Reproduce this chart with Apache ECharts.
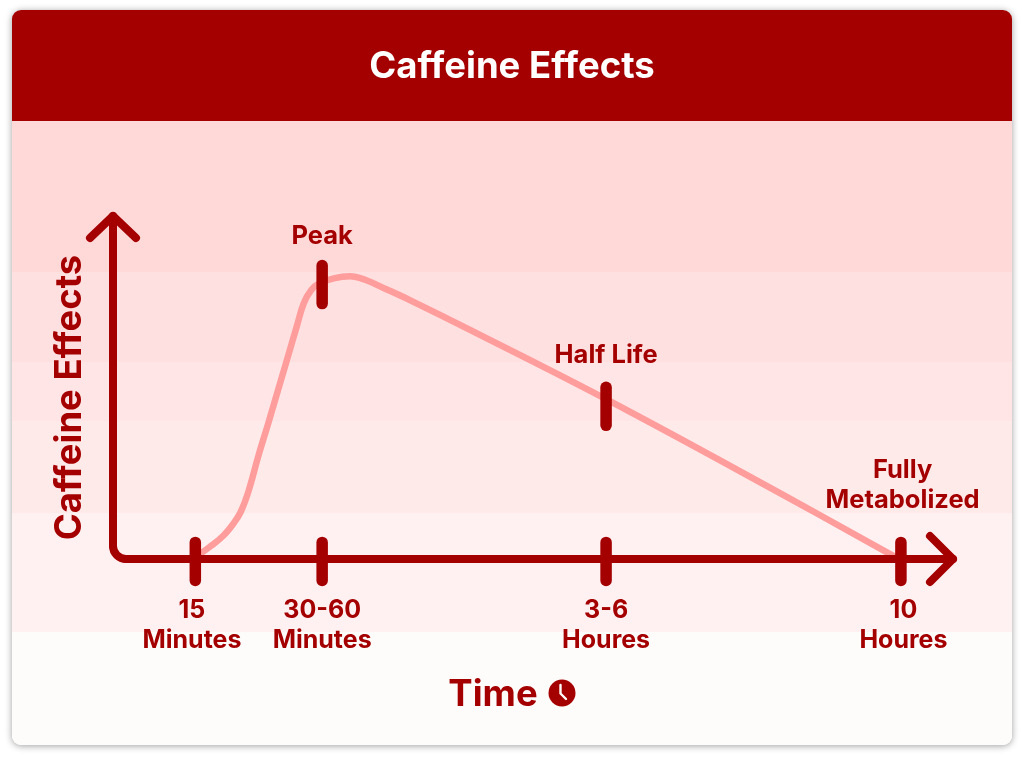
<!DOCTYPE html>
<html>
<head>
<meta charset="utf-8">
<title>Caffeine Effects</title>
<style>html,body{margin:0;padding:0;background:#fff}#chart{width:1024px;height:760px}</style>
<script src="https://cdn.jsdelivr.net/npm/echarts@6/dist/echarts.min.js"></script>
</head>
<body>
<div id="chart"></div>
<script>
// Effect curve: position along the time axis (0-100) and effect strength (0-100)
const curveTime = [10, 11.5, 13.1, 14.3, 15.2, 16.1, 17.3, 18.5, 20.7, 21.9, 22.7, 23.6, 24.6, 26.4, 28.2, 30, 32.4, 35.4, 42.5, 58.7, 79.4, 93.1];
const curveEffect = [0.9, 3.5, 6.7, 10.2, 13.7, 19.5, 30, 39.7, 58, 68, 74.5, 78.4, 80.4, 81.9, 82.4, 81.4, 78.8, 75.4, 66.8, 46.6, 19.2, 0.6];

// Time axis stops
const stopAt = [9.8, 24.9, 58.7, 93.8];
const stopLevel = -0.7;
const stopLabelAt = [9.4, 24.9, 58.7, 94.1];
const stopLabels = ['15\nMinutes', '30-60\nMinutes', '3-6\nHoures', '10\nHoures'];

// Marked moments on the curve
const eventNames = ['Peak', 'Half Life'];
const eventAt = [24.9, 58.7];
const eventLevel = [80, 44.5];

// Captions above the marks
const captionTexts = ['Peak', 'Half Life', 'Fully\nMetabolized'];
const captionAt = [24.9, 58.7, 94];
const captionLevel = [94.2, 59.5, 21.5];

const DARK = '#a50000';
const FONT = 'Inter, "Open Sans", sans-serif';

// Pale bands behind the plot, from strongest to faintest
const bandEdges = [121, 272, 362, 421, 513, 632, 745];
const bandColors = ['#ffd8d8', '#ffe0e0', '#ffe5e5', '#ffeaea', '#fff1f1', '#fefcfb'];

const cardLeft = 12, cardWidth = 1000;
const backdrop = [{
  type: 'rect', z: -5,
  shape: { x: cardLeft, y: 10, width: cardWidth, height: 735, r: 9 },
  style: { fill: '#fefcfb', shadowBlur: 7, shadowColor: 'rgba(0,0,0,0.38)', shadowOffsetY: 1 }
}, {
  type: 'rect', z: -4,
  shape: { x: cardLeft, y: 10, width: cardWidth, height: 111, r: [9, 9, 0, 0] },
  style: { fill: DARK }
}];
bandColors.forEach((fill, i) => {
  backdrop.push({
    type: 'rect', z: -4,
    shape: {
      x: cardLeft, y: bandEdges[i], width: cardWidth,
      height: bandEdges[i + 1] - bandEdges[i],
      r: i === bandColors.length - 1 ? [0, 0, 9, 9] : 0
    },
    style: { fill }
  });
});

// Clock glyph next to the time axis title
const clock = {
  type: 'group', x: 562, y: 693, z: 5,
  children: [
    { type: 'circle', shape: { cx: 0, cy: 0, r: 13.5 }, style: { fill: DARK } },
    { type: 'polyline', shape: { points: [[-1.5, -8], [-1.5, 0.5], [4, 6]] },
      style: { fill: 'none', stroke: '#fefcfb', lineWidth: 2.4, lineCap: 'round', lineJoin: 'round' } }
  ]
};

const chart = echarts.init(document.getElementById('chart'), null, { renderer: 'canvas' });

// Axis frame with a rounded corner and open arrow heads
function renderFrame(params, api) {
  const o = api.coord([0, 0]);
  const top = api.coord([0, 100]);
  const right = api.coord([100, 0]);
  const r = 13;
  const stroke = { fill: 'none', stroke: DARK, lineWidth: 8, lineCap: 'round', lineJoin: 'round' };
  return {
    type: 'group',
    children: [
      { type: 'line', shape: { x1: top[0], y1: top[1], x2: o[0], y2: o[1] - r }, style: stroke },
      { type: 'arc', shape: { cx: o[0] + r, cy: o[1] - r, r, startAngle: Math.PI / 2, endAngle: Math.PI, clockwise: true }, style: stroke },
      { type: 'line', shape: { x1: o[0] + r, y1: o[1], x2: right[0], y2: right[1] }, style: stroke },
      { type: 'polyline', shape: { points: [[top[0] - 23, top[1] + 22], top, [top[0] + 23, top[1] + 22]] }, style: stroke },
      { type: 'polyline', shape: { points: [[right[0] - 23, right[1] - 23], right, [right[0] - 23, right[1] + 23]] }, style: stroke }
    ]
  };
}

// Short upright bar marking a stop or a moment
function renderBar(params, api) {
  const c = api.coord([api.value(0), api.value(1)]);
  return {
    type: 'line',
    shape: { x1: c[0], y1: c[1] - 19, x2: c[0], y2: c[1] + 19 },
    style: { stroke: DARK, lineWidth: 11.5, lineCap: 'round', fill: 'none' }
  };
}

const captionStyle = { fontFamily: FONT, fontWeight: 700, fontSize: 25.5, color: DARK, lineHeight: 30 };

chart.setOption({
  animation: false,
  backgroundColor: '#ffffff',
  title: {
    text: 'Caffeine Effects', left: 'center', top: 39,
    textStyle: { color: '#ffffff', fontFamily: FONT, fontWeight: 700, fontSize: 36.5, lineHeight: 46 }
  },
  graphic: { elements: backdrop.concat([clock]) },
  grid: { left: 113, top: 216, width: 840, height: 343 },
  xAxis: {
    type: 'value', min: 0, max: 100,
    name: 'Time', nameLocation: 'middle', nameGap: 118,
    nameTextStyle: { fontFamily: FONT, fontWeight: 700, fontSize: 36.5, color: DARK, padding: [0, 80, 0, 0] },
    axisLine: { show: false }, axisTick: { show: false }, splitLine: { show: false },
    axisLabel: {
      customValues: stopLabelAt,
      margin: 36,
      fontFamily: FONT, fontWeight: 700, fontSize: 25, lineHeight: 30, color: DARK,
      formatter: v => stopLabels[stopLabelAt.indexOf(v)]
    }
  },
  yAxis: {
    type: 'value', min: 0, max: 100,
    name: 'Caffeine Effects', nameLocation: 'middle', nameRotate: 90, nameGap: 24,
    nameTextStyle: { fontFamily: FONT, fontWeight: 700, fontSize: 36.5, color: DARK, padding: [0, 20, 0, 0] },
    axisLine: { show: false }, axisTick: { show: false }, splitLine: { show: false },
    axisLabel: { show: false }
  },
  series: [{
    type: 'line', name: 'Caffeine effect', z: 2,
    data: curveTime.map((t, i) => [t, curveEffect[i]]),
    smooth: 0.4, showSymbol: false,
    lineStyle: { color: '#ff9c9c', width: 6.5 }
  }, {
    type: 'custom', name: 'Axes', z: 3, silent: true,
    data: [[0, 0]],
    renderItem: renderFrame
  }, {
    type: 'custom', name: 'Stops', z: 4, silent: true,
    data: stopAt.map(t => [t, stopLevel]),
    renderItem: renderBar
  }, {
    type: 'custom', name: 'Moments', z: 4, silent: true,
    data: eventAt.map((t, i) => ({ name: eventNames[i], value: [t, eventLevel[i]] })),
    renderItem: renderBar
  }, {
    type: 'scatter', name: 'Captions', z: 5, silent: true, symbolSize: 0,
    itemStyle: { opacity: 1 },
    data: captionAt.map((t, i) => ({
      value: [t, captionLevel[i]],
      label: { show: true, position: 'inside', formatter: captionTexts[i], ...captionStyle }
    }))
  }]
});
</script>
</body>
</html>
